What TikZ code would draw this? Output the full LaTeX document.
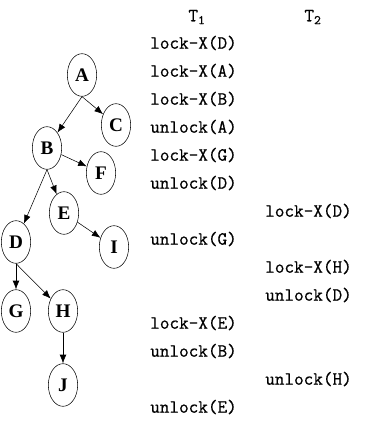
\documentclass[tikz,border=0pt]{standalone}
\usepackage{fontspec}
\setmainfont{Liberation Serif}
\newfontfamily\opfont{Latin Modern Mono}[FakeBold=0.6]
\usetikzlibrary{arrows.meta, shapes.geometric}

\begin{document}
\begin{tikzpicture}[x=0.75pt,y=-0.75pt,
	item/.style={ellipse,draw,thin,minimum width=22pt,minimum height=32pt,inner sep=0pt,font=\bfseries\Large},
	link/.style={-{Latex[length=6.5pt,width=5pt]},thin},
	op/.style={anchor=west,inner sep=0pt,font=\opfont\fontsize{14}{16}\selectfont}]
\useasboundingbox (0,0) rectangle (376,439);
% granularity tree
\foreach \n/\x/\y in {A/82/75,C/116/125,B/47/148,F/101/173,E/64/213,I/114/247,D/16/242,G/16/311,H/63/311,J/63/385}
	\node[item] (\n) at (\x,\y) {\n};
\draw[link] (A.south)--(B);
\draw[link] (A.south)--(C);
\draw[link] (B)--(F);
\draw[link] (B.south)--(D);
\draw[link] (B.south)--(E);
\draw[link] (E)--(I);
\draw[link] (D.south)--(G);
\draw[link] (D.south)--(H);
\draw[link] (H)--(J);
% schedule of T1 and T2
\node[font=\opfont\fontsize{14}{16}\selectfont] (T1) at (197,17) {T\textsubscript{1}};
\node[font=\opfont\fontsize{14}{16}\selectfont] (T2) at (313,17) {T\textsubscript{2}};
\foreach \i/\y/\s in {1/43/{lock-X(D)},2/71/{lock-X(A)},3/99/{lock-X(B)},4/127/{unlock(A)},5/155/{lock-X(G)},6/183/{unlock(D)},7/239/{unlock(G)},8/323/{lock-X(E)},9/351/{unlock(B)},10/407/{unlock(E)}}
	\node[op] (S\i) at (150,\y) {\s};
\foreach \i/\y/\s in {1/211/{lock-X(D)},2/267/{lock-X(H)},3/295/{unlock(D)},4/379/{unlock(H)}}
	\node[op] (U\i) at (265,\y) {\s};
\end{tikzpicture}
\end{document}
